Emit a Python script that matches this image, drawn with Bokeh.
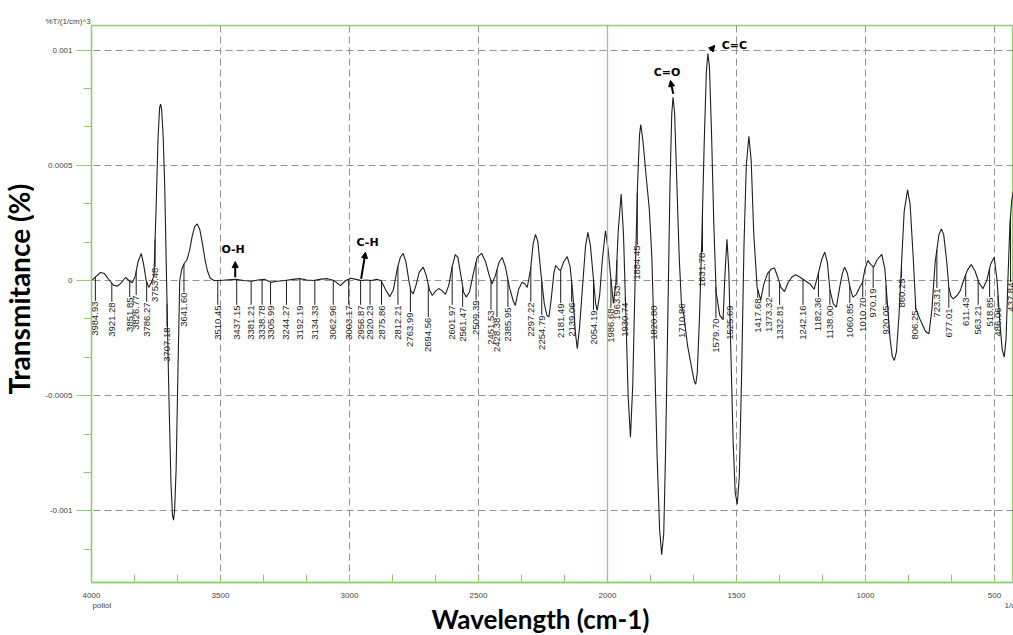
import numpy as np
from bokeh.plotting import figure
from bokeh.layouts import row, column
from bokeh.models import Range1d, FixedTicker, Span, Arrow, NormalHead, Label
from bokeh.core.properties import value
from bokeh.embed import file_html
from bokeh.resources import INLINE

# ---- data (wavenumber in cm-1, signal in units of 1e-4 %T/(1/cm)^3) ----
wavenumber = [4000, 3985, 3965, 3950, 3930, 3915, 3900, 3885, 3868, 3855, 3842, 3830, 3820, 3807, 3798,
              3788, 3778, 3768, 3758, 3750, 3742, 3736, 3732, 3728, 3722, 3716, 3709, 3700, 3692, 3686,
              3682, 3678, 3672, 3665, 3658, 3650, 3640, 3630, 3620, 3610, 3600, 3590, 3580, 3570, 3560,
              3550, 3540, 3525, 3500, 3470, 3440, 3410, 3380, 3355, 3330, 3305, 3280, 3250, 3220, 3195,
              3165, 3140, 3110, 3085, 3060, 3035, 3015, 2995, 2975, 2955, 2935, 2915, 2895, 2878, 2860,
              2844, 2830, 2815, 2803, 2792, 2781, 2770, 2762, 2753, 2742, 2730, 2714, 2702, 2690, 2679,
              2666, 2654, 2640, 2628, 2615, 2602, 2590, 2580, 2568, 2558, 2548, 2535, 2520, 2505, 2488,
              2472, 2458, 2447, 2435, 2420, 2408, 2396, 2380, 2365, 2357, 2345, 2331, 2320, 2311, 2298,
              2288, 2279, 2270, 2258, 2245, 2235, 2227, 2218, 2208, 2201, 2190, 2182, 2170, 2156, 2145,
              2135, 2125, 2117, 2108, 2095, 2085, 2076, 2066, 2054, 2046, 2040, 2030, 2020, 2008, 1998,
              1988, 1977, 1968, 1958, 1947, 1938, 1930, 1920, 1911, 1902, 1893, 1884, 1876, 1871, 1862,
              1850, 1838, 1828, 1818, 1808, 1798, 1790, 1782, 1775, 1766, 1758, 1751, 1746, 1740, 1732,
              1722, 1713, 1704, 1690, 1672, 1663, 1658, 1652, 1643, 1634, 1625, 1617, 1611, 1605, 1597,
              1588, 1579, 1565, 1552, 1545, 1537, 1530, 1522, 1513, 1505, 1497, 1489, 1480, 1471, 1462,
              1452, 1443, 1433, 1420, 1406, 1395, 1380, 1365, 1353, 1340, 1328, 1314, 1300, 1285, 1271,
              1255, 1235, 1215, 1199, 1185, 1170, 1158, 1148, 1138, 1125, 1113, 1100, 1090, 1081, 1070,
              1060, 1049, 1035, 1023, 1012, 1002, 991, 980, 968, 955, 937, 925, 915, 905, 896,
              888, 880, 870, 860, 850, 837, 827, 815, 805, 792, 780, 768, 754, 742, 730,
              715, 706, 697, 685, 677, 668, 660, 645, 632, 620, 605, 590, 575, 560, 545,
              530, 515, 501, 490, 478, 470, 462, 455, 448, 440, 433, 426]
signal_e4 = [0.0, 0.15, 0.35, 0.3, 0.0, -0.2, -0.25, -0.1, 0.13, 0.0, -0.1, 0.2, 0.8, 1.17, 0.7,
             0.0, -0.3, -0.1, 0.2, 3.0, 6.2, 7.5, 7.65, 7.4, 6.2, 4.0, 0.0, -5.0, -8.8, -10.2,
             -10.4, -10.0, -8.2, -4.0, 0.0, 0.5, 0.75, 0.9, 1.3, 1.9, 2.35, 2.45, 2.2, 1.6, 0.9,
             0.4, 0.1, 0.0, 0.0, 0.03, 0.05, 0.0, -0.03, 0.02, 0.05, -0.08, -0.03, 0.0, 0.05, 0.08,
             0.02, 0.0, 0.06, 0.08, 0.0, -0.22, 0.0, 0.1, 0.05, 0.0, 0.02, 0.0, 0.05, 0.0, -0.4,
             -0.7, -0.4, 0.5, 1.0, 1.18, 0.8, 0.0, -0.45, -0.58, -0.2, 0.35, 0.58, 0.2, -0.4, -0.65,
             -0.45, -0.35, -0.45, -0.6, -0.2, 0.6, 1.12, 1.0, 0.2, -0.5, -0.72, -0.5, 0.3, 1.0, 1.18,
             0.8, 0.2, -0.14, 0.2, 0.8, 1.0, 0.6, -0.3, -0.9, -1.08, -0.4, -0.07, -0.15, -0.3, 0.5,
             1.6, 2.0, 1.7, 0.3, -1.0, -1.5, -1.59, -0.8, 0.3, 0.65, 0.5, 0.43, 0.8, 1.04, 0.6,
             -0.5, -2.2, -2.96, -2.0, 0.0, 1.5, 2.09, 1.5, 0.0, -1.0, -1.3, -0.6, 0.9, 2.16, 1.4,
             0.2, -1.0, -0.2, 2.2, 3.75, 2.0, -1.0, -5.0, -6.8, -4.5, 0.0, 4.0, 6.3, 6.77, 6.0,
             4.5, 3.1, 1.0, -3.0, -7.5, -10.8, -11.9, -11.0, -7.5, -1.5, 4.0, 7.2, 7.95, 7.3, 4.5,
             1.0, -1.07, -1.5, -2.8, -3.9, -4.4, -4.5, -4.0, -1.5, 2.0, 6.0, 9.0, 9.85, 9.3, 6.5,
             2.5, -0.5, -1.5, -1.7, 0.2, 1.79, 0.5, -3.0, -7.0, -9.2, -9.7, -8.5, -4.0, 1.5, 5.0,
             6.26, 5.2, 2.0, -0.3, -0.85, -0.2, 0.3, 0.5, 0.54, 0.15, -0.3, -0.48, -0.1, 0.15, 0.25,
             0.15, 0.0, -0.15, -0.38, 0.2, 0.9, 1.23, 0.8, -0.4, -1.0, -1.16, -0.3, 0.3, 0.58, 0.3,
             -0.3, -0.72, -0.6, -0.3, -0.1, 0.5, 0.87, 0.7, 0.58, 0.9, 1.13, 0.5, -1.0, -2.5, -3.3,
             -3.47, -3.1, -1.5, 0.8, 3.0, 3.93, 3.3, 1.0, -1.2, -1.6, -1.9, -2.2, -2.31, -1.2, 0.8,
             2.0, 2.24, 2.0, 0.8, -0.3, -0.7, -0.8, -0.65, -0.43, 0.0, 0.45, 0.69, 0.4, -0.1, -0.36,
             0.0, 0.7, 1.01, 0.0, -2.0, -3.0, -3.32, -2.5, 0.0, 2.5, 3.5, 3.9]

peak_wavenumbers = [3984.93, 3921.28, 3851.85, 3826.77, 3786.27, 3753.48, 3707.18, 3641.60, 3510.45,
                    3437.15, 3381.21, 3338.78, 3305.99, 3244.27, 3192.19, 3134.33, 3062.96, 3003.17,
                    2956.87, 2920.23, 2875.86, 2812.21, 2763.99, 2694.56, 2601.97, 2561.47, 2509.39,
                    2451.53, 2428.38, 2385.95, 2297.22, 2254.79, 2181.49, 2139.06, 2054.19, 1986.68,
                    1963.53, 1930.74, 1884.45, 1820.80, 1710.86, 1631.78, 1579.70, 1525.69, 1417.68,
                    1373.32, 1332.81, 1242.16, 1182.36, 1138.00, 1060.85, 1010.70, 970.19, 920.05,
                    860.25, 806.25, 723.31, 677.01, 611.43, 563.21, 518.85, 486.06, 437.84]
# vertical placement of each peak label (top of the rotated text, in 1e-4 units)
label_top_e4 = [-0.91, -0.95, -0.74, -0.65, -0.95, 0.56, -2.04, -0.52, -1.08,
                -1.08, -1.08, -1.08, -1.08, -1.08, -1.08, -1.08, -1.08, -1.08,
                -1.08, -1.08, -1.08, -1.08, -1.39, -1.61, -1.08, -1.17, -0.87,
                -1.30, -1.61, -1.17, -0.95, -1.52, -1.0, -0.95, -1.30, -1.21,
                -0.22, -0.95, 1.52, -1.08, -1.0, 1.21, -1.65, -1.08, -0.78,
                -0.74, -1.08, -1.08, -0.74, -1.08, -1.0, -0.74, -0.35, -1.08,
                0.09, -1.30, -0.35, -1.21, -0.74, -1.08, -0.74, -1.17, -0.09]

x_ticks = [4000, 3500, 3000, 2500, 2000, 1500, 1000, 500]
y_ticks = [-0.001, -0.0005, 0.0, 0.0005, 0.001]
y_tick_text = ["-0.001", "-0.0005", "0", "0.0005", "0.001"]

bands = ["O-H", "C-H", "C=O", "C=C"]
band_text_x = [3451, 2930, 1769, 1508]
band_text_y_e4 = [1.34, 1.66, 9.04, 10.2]
band_arrow_x0 = [3443, 2955, 1745, 1601]
band_arrow_y0_e4 = [0.14, 0.07, 8.1, 9.98]
band_arrow_x1 = [3443, 2938, 1756, 1584]
band_arrow_y1_e4 = [0.82, 1.23, 8.68, 10.2]

# ---- styling ----
GREEN = "#8cd16b"
GRID = "#949494"
INK = "#1e1e1e"
TICK_TXT = "#444444"
E4 = 1e-4
PX_PER_UNIT = 230.5 / 0.001      # vertical pixels per data unit

x = np.array(wavenumber, dtype=float)
y = np.array(signal_e4) * E4

LEFT_W, MAIN_W, MAIN_H, BOTTOM_H = 34, 979, 602, 33

p = figure(width=MAIN_W, height=MAIN_H, output_backend="svg", toolbar_location=None,
           x_range=Range1d(4000, 426.3), y_range=Range1d(-0.0013102, 0.0011063),
           min_border_left=91 - LEFT_W, min_border_right=0, min_border_top=25, min_border_bottom=20)
p.background_fill_color = "white"
p.border_fill_color = "white"
p.outline_line_color = GREEN
p.outline_line_width = 1.3

p.title.text = "%T/(1/cm)^3"
p.title.align = "left"
p.title.offset = -46
p.title.standoff = 0
p.title.text_font = "Liberation Sans"
p.title.text_font_size = "8px"
p.title.text_font_style = "normal"
p.title.text_color = TICK_TXT

# axes
xt = FixedTicker(ticks=x_ticks, minor_ticks=list(np.arange(4000, 400, -500 / 3)))
yt = FixedTicker(ticks=y_ticks, minor_ticks=list(np.arange(-0.0015, 0.00115, 0.0005 / 3)))
p.xaxis.ticker = xt
p.yaxis.ticker = yt
p.yaxis.major_label_overrides = {v: t for v, t in zip(y_ticks, y_tick_text)}
for ax in (p.xaxis[0], p.yaxis[0]):
    ax.axis_line_color = GREEN
    ax.axis_line_width = 1.3
    ax.major_tick_line_color = GREEN
    ax.minor_tick_line_color = GREEN
    ax.major_label_text_font = "Liberation Sans"
    ax.major_label_text_font_size = "8px"
    ax.major_label_text_color = TICK_TXT
p.yaxis.major_tick_out = 15
p.yaxis.major_tick_in = 0
p.yaxis.minor_tick_out = 8
p.yaxis.minor_tick_in = 0
p.yaxis.major_label_standoff = 4
p.xaxis.major_tick_out = 0
p.xaxis.major_tick_in = 8
p.xaxis.minor_tick_out = 0
p.xaxis.minor_tick_in = 8
p.xaxis.major_label_standoff = 10

p.xgrid.ticker = xt
p.ygrid.ticker = yt
for g in (p.xgrid[0], p.ygrid[0]):
    g.grid_line_color = GRID
    g.grid_line_dash = "7 4"
    g.grid_line_width = 1
p.add_layout(Span(location=2000, dimension="height", line_color=GREEN, line_width=1.3))

# spectrum
p.line(x, y, line_color=INK, line_width=1.1)

# peak labels with leader lines
order = np.argsort(x)
pk = np.array(peak_wavenumbers)
curve_at = np.interp(pk, x[order], y[order])
texts = [f"{v:.2f}" for v in peak_wavenumbers]
tops = np.array(label_top_e4) * E4
font_px = 9.5
lengths = np.array([(sum(0.278 if c == "." else 0.556 for c in t) * font_px) / PX_PER_UNIT for t in texts])
bottoms = tops - lengths
gap = 0.6 / PX_PER_UNIT
x0s, y0s, y1s = [], [], []
for xv, cy, tp, bt in zip(pk, curve_at, tops, bottoms):
    if cy > tp + gap:
        x0s.append(xv); y0s.append(tp + gap); y1s.append(cy)
    elif cy < bt - gap:
        x0s.append(xv); y0s.append(bt - gap); y1s.append(cy)
p.segment(x0=x0s, y0=y0s, x1=x0s, y1=y1s, line_color=INK, line_width=1)
p.text(x=pk, y=tops, text=texts, angle=np.pi / 2, text_align="right", text_baseline="middle",
       text_font=value("Liberation Sans"), text_font_size=f"{font_px}px", text_color=INK)

# band annotations
for name, tx, ty, ax0, ay0, ax1, ay1 in zip(bands, band_text_x, band_text_y_e4, band_arrow_x0,
                                             band_arrow_y0_e4, band_arrow_x1, band_arrow_y1_e4):
    p.add_layout(Arrow(x_start=ax0, y_start=ay0 * E4, x_end=ax1, y_end=ay1 * E4, line_width=2,
                       line_color="black",
                       end=NormalHead(size=6, fill_color="black", line_color="black")))
    p.add_layout(Label(x=tx, y=ty * E4, text=name, text_align="center", text_baseline="middle",
                       text_font="DejaVu Sans", text_font_style="bold", text_font_size="11px",
                       text_color="black"))

# ---- side strips holding the axis titles ----
left = figure(width=LEFT_W, height=MAIN_H, output_backend="svg", toolbar_location=None,
              x_range=Range1d(0, LEFT_W), y_range=Range1d(0, MAIN_H),
              x_axis_type=None, y_axis_type=None, min_border=0)
left.outline_line_color = None
left.grid.visible = False
left.text(x=[18], y=[MAIN_H - 285], text=["Transmitance (%)"], angle=np.pi / 2, text_align="center",
          text_baseline="middle", text_font=value("Lato"), text_font_style="bold",
          text_font_size="28px", text_color="black")

bottom = figure(width=LEFT_W + MAIN_W, height=BOTTOM_H, output_backend="svg", toolbar_location=None,
                x_range=Range1d(0, LEFT_W + MAIN_W), y_range=Range1d(0, BOTTOM_H),
                x_axis_type=None, y_axis_type=None, min_border=0)
bottom.outline_line_color = None
bottom.grid.visible = False
bottom.text(x=[540], y=[17], text=["Wavelength (cm-1)"], text_align="center", text_baseline="middle",
            text_font=value("Lato"), text_font_style="bold", text_font_size="26px", text_color="black")
bottom.text(x=[92, 1004], y=[30, 30], text=["poliol", "1/cm"], text_align="left", text_baseline="middle",
            text_font=value("Liberation Sans"), text_font_size="8px", text_color=TICK_TXT)

layout = column(row(left, p), bottom)
open("out.html", "w").write(file_html(layout, INLINE))
